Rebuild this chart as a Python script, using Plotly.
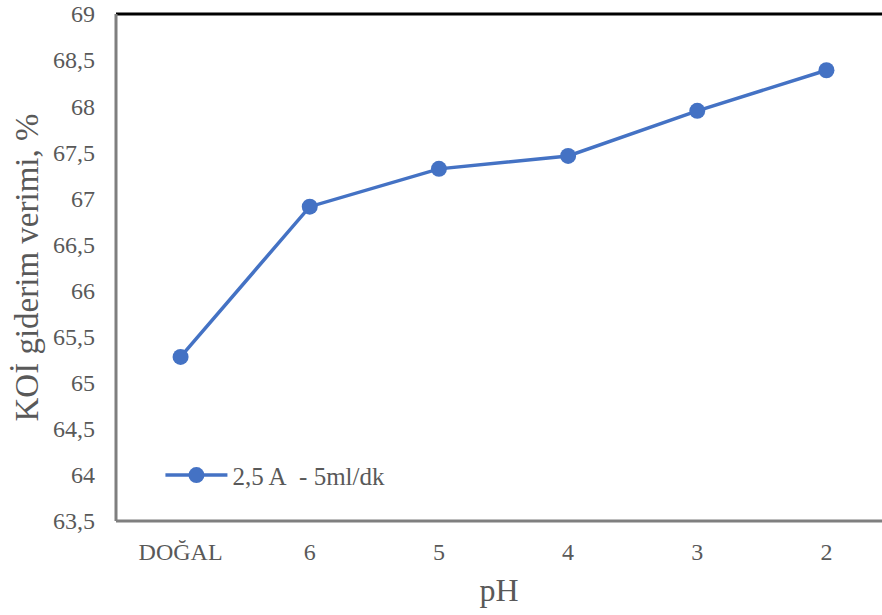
import plotly.graph_objects as go

categories = ["DOĞAL", "6", "5", "4", "3", "2"]
koi_values = [65.28, 66.91, 67.32, 67.46, 67.95, 68.39]
series_name = "2,5 A\u00a0\u00a0- 5ml/dk"
y_tick_vals = [63.5, 64, 64.5, 65, 65.5, 66, 66.5, 67, 67.5, 68, 68.5, 69]
y_tick_text = ["63,5", "64", "64,5", "65", "65,5", "66", "66,5", "67", "67,5", "68", "68,5", "69"]

blue = "#4472C4"
grey = "#595959"
font_family = "Liberation Serif"

fig = go.Figure()
fig.add_trace(go.Scatter(
    x=list(range(len(categories))), y=koi_values, mode="lines+markers",
    name=series_name,
    line=dict(color=blue, width=3.5),
    marker=dict(color=blue, size=16),
))

fig.update_layout(
    width=882, height=615,
    margin=dict(l=116, r=0, t=14, b=94),
    plot_bgcolor="white", paper_bgcolor="white",
    font=dict(family=font_family, color=grey),
    showlegend=True,
    legend=dict(x=0.058, y=0.09, xanchor="left", yanchor="middle",
                font=dict(size=25, color=grey, family=font_family),
                bgcolor="rgba(0,0,0,0)", itemwidth=62),
    xaxis=dict(
        range=[-0.5, 5.43],
        tickvals=list(range(len(categories))), ticktext=categories,
        showgrid=False, zeroline=False,
        showline=False,
        ticks="", tickfont=dict(size=24, color=grey, family=font_family),
        ticklabelstandoff=14,
        title=dict(text="pH", font=dict(size=32, color=grey, family=font_family), standoff=14),
    ),
    yaxis=dict(
        range=[63.5, 69],
        tickvals=y_tick_vals, ticktext=y_tick_text,
        showgrid=False, zeroline=False, showline=False,
        ticks="", tickfont=dict(size=24, color=grey, family=font_family),
        ticklabelstandoff=20,
        title=dict(text="KOİ giderim verimi, %", font=dict(size=33, color=grey, family=font_family), standoff=4),
    ),
)

# frame lines
fig.add_shape(type="line", xref="paper", yref="paper", x0=0, x1=1.02, y0=1, y1=1,
              line=dict(color="black", width=3))
fig.add_shape(type="line", xref="paper", yref="paper", x0=0, x1=0, y0=0, y1=1,
              line=dict(color="#7f7f7f", width=3))
fig.add_shape(type="line", xref="paper", yref="paper", x0=0, x1=1.02, y0=0, y1=0,
              line=dict(color="#7f7f7f", width=3))

fig.write_html("out.html")
